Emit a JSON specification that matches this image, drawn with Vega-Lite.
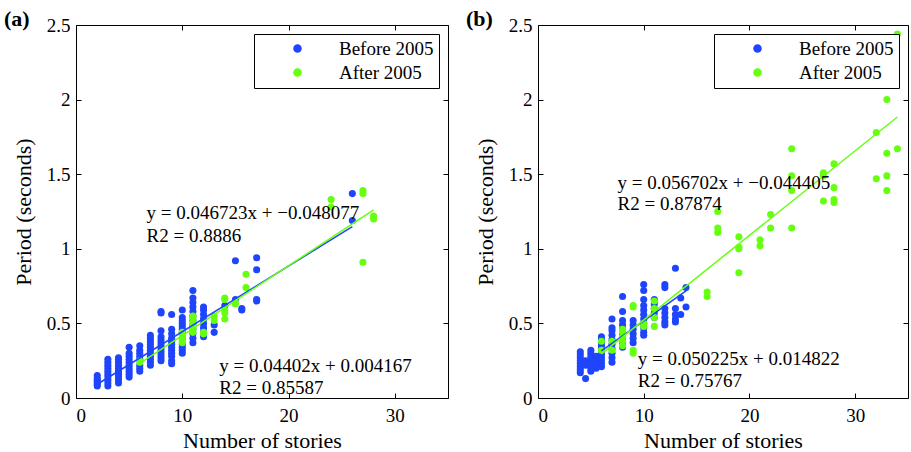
{
  "$schema": "https://vega.github.io/schema/vega-lite/v6.json",
  "padding": {"left": 3, "top": 7, "right": 0, "bottom": 0},
  "background": "white",
  "config": {
    "font": "Liberation Serif",
    "view": {"stroke": "black", "strokeWidth": 1},
    "axis": {
      "grid": false, "domain": false,
      "labelFont": "Liberation Serif", "labelFontSize": 19, "labelColor": "black",
      "titleFont": "Liberation Serif", "titleFontSize": 22, "titleFontWeight": "normal", "titleColor": "black",
      "tickColor": "black", "tickSize": -5, "tickWidth": 1
    },
    "title": {"font": "Liberation Serif", "fontSize": 22, "fontWeight": "bold", "color": "black", "anchor": "start", "frame": "group"}
  },
  "resolve": {"scale": {"color": "independent", "stroke": "independent"}, "legend": {"color": "independent", "stroke": "independent"}},
  "datasets": {
    "pts": [
      {"p":"a","g":"Before 2005","x":2,"y":0.08},{"p":"a","g":"Before 2005","x":2,"y":0.09},{"p":"a","g":"Before 2005","x":2,"y":0.10},{"p":"a","g":"Before 2005","x":2,"y":0.11},{"p":"a","g":"Before 2005","x":2,"y":0.12},{"p":"a","g":"Before 2005","x":2,"y":0.13},{"p":"a","g":"Before 2005","x":2,"y":0.15},
      {"p":"a","g":"Before 2005","x":3,"y":0.08},{"p":"a","g":"Before 2005","x":3,"y":0.10},{"p":"a","g":"Before 2005","x":3,"y":0.12},{"p":"a","g":"Before 2005","x":3,"y":0.14},{"p":"a","g":"Before 2005","x":3,"y":0.16},{"p":"a","g":"Before 2005","x":3,"y":0.18},{"p":"a","g":"Before 2005","x":3,"y":0.20},{"p":"a","g":"Before 2005","x":3,"y":0.22},{"p":"a","g":"Before 2005","x":3,"y":0.24},{"p":"a","g":"Before 2005","x":3,"y":0.26},
      {"p":"a","g":"Before 2005","x":4,"y":0.10},{"p":"a","g":"Before 2005","x":4,"y":0.12},{"p":"a","g":"Before 2005","x":4,"y":0.14},{"p":"a","g":"Before 2005","x":4,"y":0.16},{"p":"a","g":"Before 2005","x":4,"y":0.18},{"p":"a","g":"Before 2005","x":4,"y":0.20},{"p":"a","g":"Before 2005","x":4,"y":0.22},{"p":"a","g":"Before 2005","x":4,"y":0.24},{"p":"a","g":"Before 2005","x":4,"y":0.26},{"p":"a","g":"Before 2005","x":4,"y":0.27},
      {"p":"a","g":"Before 2005","x":5,"y":0.14},{"p":"a","g":"Before 2005","x":5,"y":0.16},{"p":"a","g":"Before 2005","x":5,"y":0.18},{"p":"a","g":"Before 2005","x":5,"y":0.20},{"p":"a","g":"Before 2005","x":5,"y":0.22},{"p":"a","g":"Before 2005","x":5,"y":0.24},{"p":"a","g":"Before 2005","x":5,"y":0.26},{"p":"a","g":"Before 2005","x":5,"y":0.28},{"p":"a","g":"Before 2005","x":5,"y":0.30},{"p":"a","g":"Before 2005","x":5,"y":0.34},
      {"p":"a","g":"Before 2005","x":6,"y":0.18},{"p":"a","g":"Before 2005","x":6,"y":0.20},{"p":"a","g":"Before 2005","x":6,"y":0.22},{"p":"a","g":"Before 2005","x":6,"y":0.26},{"p":"a","g":"Before 2005","x":6,"y":0.28},{"p":"a","g":"Before 2005","x":6,"y":0.30},{"p":"a","g":"Before 2005","x":6,"y":0.32},{"p":"a","g":"Before 2005","x":6,"y":0.35},
      {"p":"a","g":"Before 2005","x":7,"y":0.22},{"p":"a","g":"Before 2005","x":7,"y":0.24},{"p":"a","g":"Before 2005","x":7,"y":0.26},{"p":"a","g":"Before 2005","x":7,"y":0.28},{"p":"a","g":"Before 2005","x":7,"y":0.30},{"p":"a","g":"Before 2005","x":7,"y":0.32},{"p":"a","g":"Before 2005","x":7,"y":0.34},{"p":"a","g":"Before 2005","x":7,"y":0.36},{"p":"a","g":"Before 2005","x":7,"y":0.38},{"p":"a","g":"Before 2005","x":7,"y":0.40},{"p":"a","g":"Before 2005","x":7,"y":0.42},
      {"p":"a","g":"Before 2005","x":8,"y":0.25},{"p":"a","g":"Before 2005","x":8,"y":0.27},{"p":"a","g":"Before 2005","x":8,"y":0.29},{"p":"a","g":"Before 2005","x":8,"y":0.31},{"p":"a","g":"Before 2005","x":8,"y":0.33},{"p":"a","g":"Before 2005","x":8,"y":0.35},{"p":"a","g":"Before 2005","x":8,"y":0.37},{"p":"a","g":"Before 2005","x":8,"y":0.39},{"p":"a","g":"Before 2005","x":8,"y":0.41},{"p":"a","g":"Before 2005","x":8,"y":0.45},{"p":"a","g":"Before 2005","x":8,"y":0.57},{"p":"a","g":"Before 2005","x":8,"y":0.58},
      {"p":"a","g":"Before 2005","x":9,"y":0.23},{"p":"a","g":"Before 2005","x":9,"y":0.25},{"p":"a","g":"Before 2005","x":9,"y":0.28},{"p":"a","g":"Before 2005","x":9,"y":0.30},{"p":"a","g":"Before 2005","x":9,"y":0.32},{"p":"a","g":"Before 2005","x":9,"y":0.34},{"p":"a","g":"Before 2005","x":9,"y":0.36},{"p":"a","g":"Before 2005","x":9,"y":0.38},{"p":"a","g":"Before 2005","x":9,"y":0.40},{"p":"a","g":"Before 2005","x":9,"y":0.43},{"p":"a","g":"Before 2005","x":9,"y":0.46},{"p":"a","g":"Before 2005","x":9,"y":0.56},
      {"p":"a","g":"Before 2005","x":10,"y":0.30},{"p":"a","g":"Before 2005","x":10,"y":0.32},{"p":"a","g":"Before 2005","x":10,"y":0.34},{"p":"a","g":"Before 2005","x":10,"y":0.36},{"p":"a","g":"Before 2005","x":10,"y":0.40},{"p":"a","g":"Before 2005","x":10,"y":0.44},{"p":"a","g":"Before 2005","x":10,"y":0.46},{"p":"a","g":"Before 2005","x":10,"y":0.48},{"p":"a","g":"Before 2005","x":10,"y":0.50},{"p":"a","g":"Before 2005","x":10,"y":0.52},{"p":"a","g":"Before 2005","x":10,"y":0.54},{"p":"a","g":"Before 2005","x":10,"y":0.59},
      {"p":"a","g":"Before 2005","x":11,"y":0.37},{"p":"a","g":"Before 2005","x":11,"y":0.40},{"p":"a","g":"Before 2005","x":11,"y":0.43},{"p":"a","g":"Before 2005","x":11,"y":0.46},{"p":"a","g":"Before 2005","x":11,"y":0.49},{"p":"a","g":"Before 2005","x":11,"y":0.52},{"p":"a","g":"Before 2005","x":11,"y":0.55},{"p":"a","g":"Before 2005","x":11,"y":0.58},{"p":"a","g":"Before 2005","x":11,"y":0.61},{"p":"a","g":"Before 2005","x":11,"y":0.64},{"p":"a","g":"Before 2005","x":11,"y":0.67},{"p":"a","g":"Before 2005","x":11,"y":0.72},
      {"p":"a","g":"Before 2005","x":12,"y":0.41},{"p":"a","g":"Before 2005","x":12,"y":0.44},{"p":"a","g":"Before 2005","x":12,"y":0.47},{"p":"a","g":"Before 2005","x":12,"y":0.50},{"p":"a","g":"Before 2005","x":12,"y":0.53},{"p":"a","g":"Before 2005","x":12,"y":0.56},{"p":"a","g":"Before 2005","x":12,"y":0.59},{"p":"a","g":"Before 2005","x":12,"y":0.61},
      {"p":"a","g":"Before 2005","x":13,"y":0.44},{"p":"a","g":"Before 2005","x":13,"y":0.49},
      {"p":"a","g":"Before 2005","x":14,"y":0.62},
      {"p":"a","g":"Before 2005","x":15,"y":0.66},{"p":"a","g":"Before 2005","x":15,"y":0.92},
      {"p":"a","g":"Before 2005","x":15.6,"y":0.59},{"p":"a","g":"Before 2005","x":15.6,"y":0.60},
      {"p":"a","g":"Before 2005","x":17,"y":0.65},{"p":"a","g":"Before 2005","x":17,"y":0.66},{"p":"a","g":"Before 2005","x":17,"y":0.86},{"p":"a","g":"Before 2005","x":17,"y":0.94},
      {"p":"a","g":"Before 2005","x":26,"y":1.19},{"p":"a","g":"Before 2005","x":26,"y":1.37},
      {"p":"a","g":"After 2005","x":6,"y":0.24},{"p":"a","g":"After 2005","x":6,"y":0.25},
      {"p":"a","g":"After 2005","x":10,"y":0.37},{"p":"a","g":"After 2005","x":10,"y":0.38},{"p":"a","g":"After 2005","x":10,"y":0.40},{"p":"a","g":"After 2005","x":10,"y":0.42},{"p":"a","g":"After 2005","x":10,"y":0.44},
      {"p":"a","g":"After 2005","x":11,"y":0.44},{"p":"a","g":"After 2005","x":11,"y":0.46},{"p":"a","g":"After 2005","x":11,"y":0.48},{"p":"a","g":"After 2005","x":11,"y":0.50},{"p":"a","g":"After 2005","x":11,"y":0.52},{"p":"a","g":"After 2005","x":11,"y":0.54},{"p":"a","g":"After 2005","x":11,"y":0.55},
      {"p":"a","g":"After 2005","x":12,"y":0.43},{"p":"a","g":"After 2005","x":12,"y":0.44},
      {"p":"a","g":"After 2005","x":13,"y":0.52},{"p":"a","g":"After 2005","x":13,"y":0.55},
      {"p":"a","g":"After 2005","x":14,"y":0.53},{"p":"a","g":"After 2005","x":14,"y":0.57},{"p":"a","g":"After 2005","x":14,"y":0.59},{"p":"a","g":"After 2005","x":14,"y":0.66},{"p":"a","g":"After 2005","x":14,"y":0.67},
      {"p":"a","g":"After 2005","x":15,"y":0.63},{"p":"a","g":"After 2005","x":15,"y":0.64},
      {"p":"a","g":"After 2005","x":16,"y":0.74},{"p":"a","g":"After 2005","x":16,"y":0.83},
      {"p":"a","g":"After 2005","x":24,"y":1.28},{"p":"a","g":"After 2005","x":24,"y":1.33},
      {"p":"a","g":"After 2005","x":27,"y":0.91},{"p":"a","g":"After 2005","x":27,"y":1.37},{"p":"a","g":"After 2005","x":27,"y":1.39},
      {"p":"a","g":"After 2005","x":28,"y":1.20},{"p":"a","g":"After 2005","x":28,"y":1.22},
      {"p":"b","g":"Before 2005","x":4,"y":0.17},{"p":"b","g":"Before 2005","x":4,"y":0.19},{"p":"b","g":"Before 2005","x":4,"y":0.21},{"p":"b","g":"Before 2005","x":4,"y":0.23},{"p":"b","g":"Before 2005","x":4,"y":0.25},{"p":"b","g":"Before 2005","x":4,"y":0.27},{"p":"b","g":"Before 2005","x":4,"y":0.29},{"p":"b","g":"Before 2005","x":4,"y":0.31},
      {"p":"b","g":"Before 2005","x":4.5,"y":0.13},{"p":"b","g":"Before 2005","x":4.5,"y":0.22},{"p":"b","g":"Before 2005","x":4.5,"y":0.25},
      {"p":"b","g":"Before 2005","x":5,"y":0.18},{"p":"b","g":"Before 2005","x":5,"y":0.20},{"p":"b","g":"Before 2005","x":5,"y":0.22},{"p":"b","g":"Before 2005","x":5,"y":0.24},{"p":"b","g":"Before 2005","x":5,"y":0.26},{"p":"b","g":"Before 2005","x":5,"y":0.28},{"p":"b","g":"Before 2005","x":5,"y":0.30},{"p":"b","g":"Before 2005","x":5,"y":0.32},
      {"p":"b","g":"Before 2005","x":5.5,"y":0.20},{"p":"b","g":"Before 2005","x":5.5,"y":0.22},{"p":"b","g":"Before 2005","x":5.5,"y":0.25},{"p":"b","g":"Before 2005","x":5.5,"y":0.28},
      {"p":"b","g":"Before 2005","x":6,"y":0.21},{"p":"b","g":"Before 2005","x":6,"y":0.23},{"p":"b","g":"Before 2005","x":6,"y":0.25},{"p":"b","g":"Before 2005","x":6,"y":0.27},{"p":"b","g":"Before 2005","x":6,"y":0.29},{"p":"b","g":"Before 2005","x":6,"y":0.31},{"p":"b","g":"Before 2005","x":6,"y":0.33},{"p":"b","g":"Before 2005","x":6,"y":0.35},{"p":"b","g":"Before 2005","x":6,"y":0.37},{"p":"b","g":"Before 2005","x":6,"y":0.39},{"p":"b","g":"Before 2005","x":6,"y":0.41},
      {"p":"b","g":"Before 2005","x":7,"y":0.24},{"p":"b","g":"Before 2005","x":7,"y":0.27},{"p":"b","g":"Before 2005","x":7,"y":0.30},{"p":"b","g":"Before 2005","x":7,"y":0.33},{"p":"b","g":"Before 2005","x":7,"y":0.36},{"p":"b","g":"Before 2005","x":7,"y":0.39},{"p":"b","g":"Before 2005","x":7,"y":0.42},{"p":"b","g":"Before 2005","x":7,"y":0.45},{"p":"b","g":"Before 2005","x":7,"y":0.47},{"p":"b","g":"Before 2005","x":7,"y":0.53},
      {"p":"b","g":"Before 2005","x":8,"y":0.34},{"p":"b","g":"Before 2005","x":8,"y":0.37},{"p":"b","g":"Before 2005","x":8,"y":0.40},{"p":"b","g":"Before 2005","x":8,"y":0.43},{"p":"b","g":"Before 2005","x":8,"y":0.46},{"p":"b","g":"Before 2005","x":8,"y":0.49},{"p":"b","g":"Before 2005","x":8,"y":0.52},{"p":"b","g":"Before 2005","x":8,"y":0.58},{"p":"b","g":"Before 2005","x":8,"y":0.68},
      {"p":"b","g":"Before 2005","x":9,"y":0.37},{"p":"b","g":"Before 2005","x":9,"y":0.40},{"p":"b","g":"Before 2005","x":9,"y":0.43},{"p":"b","g":"Before 2005","x":9,"y":0.46},{"p":"b","g":"Before 2005","x":9,"y":0.49},{"p":"b","g":"Before 2005","x":9,"y":0.52},
      {"p":"b","g":"Before 2005","x":10,"y":0.42},{"p":"b","g":"Before 2005","x":10,"y":0.44},{"p":"b","g":"Before 2005","x":10,"y":0.47},{"p":"b","g":"Before 2005","x":10,"y":0.50},{"p":"b","g":"Before 2005","x":10,"y":0.53},{"p":"b","g":"Before 2005","x":10,"y":0.56},{"p":"b","g":"Before 2005","x":10,"y":0.59},{"p":"b","g":"Before 2005","x":10,"y":0.62},{"p":"b","g":"Before 2005","x":10,"y":0.66},{"p":"b","g":"Before 2005","x":10,"y":0.72},{"p":"b","g":"Before 2005","x":10,"y":0.76},
      {"p":"b","g":"Before 2005","x":11,"y":0.54},{"p":"b","g":"Before 2005","x":11,"y":0.57},{"p":"b","g":"Before 2005","x":11,"y":0.60},{"p":"b","g":"Before 2005","x":11,"y":0.63},{"p":"b","g":"Before 2005","x":11,"y":0.66},
      {"p":"b","g":"Before 2005","x":12,"y":0.49},{"p":"b","g":"Before 2005","x":12,"y":0.51},{"p":"b","g":"Before 2005","x":12,"y":0.54},{"p":"b","g":"Before 2005","x":12,"y":0.57},{"p":"b","g":"Before 2005","x":12,"y":0.60},{"p":"b","g":"Before 2005","x":12,"y":0.74},{"p":"b","g":"Before 2005","x":12,"y":0.76},
      {"p":"b","g":"Before 2005","x":13,"y":0.51},{"p":"b","g":"Before 2005","x":13,"y":0.53},{"p":"b","g":"Before 2005","x":13,"y":0.56},{"p":"b","g":"Before 2005","x":13,"y":0.60},{"p":"b","g":"Before 2005","x":13,"y":0.87},
      {"p":"b","g":"Before 2005","x":13.5,"y":0.56},{"p":"b","g":"Before 2005","x":13.5,"y":0.67},
      {"p":"b","g":"Before 2005","x":14,"y":0.61},{"p":"b","g":"Before 2005","x":14,"y":0.74},
      {"p":"b","g":"After 2005","x":6,"y":0.32},{"p":"b","g":"After 2005","x":6,"y":0.38},
      {"p":"b","g":"After 2005","x":7,"y":0.32},{"p":"b","g":"After 2005","x":7,"y":0.38},
      {"p":"b","g":"After 2005","x":8,"y":0.35},{"p":"b","g":"After 2005","x":8,"y":0.38},{"p":"b","g":"After 2005","x":8,"y":0.41},{"p":"b","g":"After 2005","x":8,"y":0.44},{"p":"b","g":"After 2005","x":8,"y":0.46},
      {"p":"b","g":"After 2005","x":9,"y":0.30},{"p":"b","g":"After 2005","x":9,"y":0.32},{"p":"b","g":"After 2005","x":9,"y":0.61},{"p":"b","g":"After 2005","x":9,"y":0.62},
      {"p":"b","g":"After 2005","x":10,"y":0.48},{"p":"b","g":"After 2005","x":10,"y":0.50},
      {"p":"b","g":"After 2005","x":11,"y":0.48},{"p":"b","g":"After 2005","x":11,"y":0.54},{"p":"b","g":"After 2005","x":11,"y":0.60},{"p":"b","g":"After 2005","x":11,"y":0.65},
      {"p":"b","g":"After 2005","x":16,"y":0.68},{"p":"b","g":"After 2005","x":16,"y":0.71},
      {"p":"b","g":"After 2005","x":17,"y":1.11},{"p":"b","g":"After 2005","x":17,"y":1.14},{"p":"b","g":"After 2005","x":17,"y":1.25},
      {"p":"b","g":"After 2005","x":19,"y":0.84},{"p":"b","g":"After 2005","x":19,"y":1.00},{"p":"b","g":"After 2005","x":19,"y":1.01},{"p":"b","g":"After 2005","x":19,"y":1.08},
      {"p":"b","g":"After 2005","x":21,"y":1.02},{"p":"b","g":"After 2005","x":21,"y":1.06},
      {"p":"b","g":"After 2005","x":22,"y":1.14},{"p":"b","g":"After 2005","x":22,"y":1.23},
      {"p":"b","g":"After 2005","x":24,"y":1.14},{"p":"b","g":"After 2005","x":24,"y":1.39},{"p":"b","g":"After 2005","x":24,"y":1.49},{"p":"b","g":"After 2005","x":24,"y":1.67},
      {"p":"b","g":"After 2005","x":27,"y":1.32},{"p":"b","g":"After 2005","x":27,"y":1.49},{"p":"b","g":"After 2005","x":27,"y":1.51},
      {"p":"b","g":"After 2005","x":28,"y":1.31},{"p":"b","g":"After 2005","x":28,"y":1.33},{"p":"b","g":"After 2005","x":28,"y":1.41},{"p":"b","g":"After 2005","x":28,"y":1.57},
      {"p":"b","g":"After 2005","x":32,"y":1.47},{"p":"b","g":"After 2005","x":32,"y":1.78},
      {"p":"b","g":"After 2005","x":33,"y":1.39},{"p":"b","g":"After 2005","x":33,"y":1.49},{"p":"b","g":"After 2005","x":33,"y":1.64},{"p":"b","g":"After 2005","x":33,"y":2.00},
      {"p":"b","g":"After 2005","x":34,"y":1.67},{"p":"b","g":"After 2005","x":34,"y":2.44}
    ],
    "fits": [
      {"p":"a","g":"Before 2005","x":2,"y":0.0922},{"p":"a","g":"Before 2005","x":26,"y":1.1487},
      {"p":"a","g":"After 2005","x":6,"y":0.2323},{"p":"a","g":"After 2005","x":28,"y":1.2602},
      {"p":"b","g":"Before 2005","x":6,"y":0.3162},{"p":"b","g":"Before 2005","x":14,"y":0.7180},
      {"p":"b","g":"After 2005","x":6,"y":0.2958},{"p":"b","g":"After 2005","x":34,"y":1.8835}
    ],
    "eqs": [
      {"p":"a","x":6.64,"y":1.241,"t":"y = 0.046723x + −0.048077"},
      {"p":"a","x":6.64,"y":1.089,"t":"R2 = 0.8886"},
      {"p":"a","x":13.48,"y":0.213,"t":"y = 0.04402x + 0.004167"},
      {"p":"a","x":13.48,"y":0.067,"t":"R2 = 0.85587"},
      {"p":"b","x":7.53,"y":1.442,"t":"y = 0.056702x + −0.044405"},
      {"p":"b","x":7.53,"y":1.297,"t":"R2 = 0.87874"},
      {"p":"b","x":9.44,"y":0.262,"t":"y = 0.050225x + 0.014822"},
      {"p":"b","x":9.44,"y":0.112,"t":"R2 = 0.75767"}
    ]
  },
  "spacing": 16,
  "hconcat": [
    {
      "width": 372, "height": 373,
      "title": {"text": "(a)", "dx": -72, "offset": -15},
      "resolve": {"axis": {"x": "independent", "y": "independent"}},
      "layer": [
        {
          "data": {"name": "pts"},
          "transform": [{"filter": "datum.p === 'a'"}],
          "mark": {"type": "circle", "size": 50, "opacity": 1},
          "encoding": {
            "x": {"field": "x", "type": "quantitative", "scale": {"domain": [0, 35], "nice": false}, "axis": {"orient": "bottom", "values": [0, 10, 20, 30], "title": "Number of stories", "labelPadding": 13, "titlePadding": 5}},
            "y": {"field": "y", "type": "quantitative", "scale": {"domain": [0, 2.5], "nice": false}, "axis": {"orient": "left", "values": [0, 0.5, 1, 1.5, 2, 2.5], "format": "~g", "title": "Period (seconds)", "labelPadding": 11, "titlePadding": 11}},
            "color": {"field": "g", "type": "nominal", "sort": ["Before 2005", "After 2005"],
              "scale": {"domain": ["Before 2005", "After 2005"], "range": ["#1f45fc", "#66ff11"]},
              "legend": {"title": null, "orient": "top-right", "offset": 9, "strokeColor": "black", "fillColor": "white", "padding": 5, "symbolOffset": 29, "labelOffset": 32, "labelFont": "Liberation Serif", "labelFontSize": 19, "labelColor": "black", "symbolSize": 50, "symbolType": "circle", "rowPadding": 4}}
          }
        },
        {
          "data": {"name": "fits"},
          "transform": [{"filter": "datum.p === 'a'"}],
          "mark": {"type": "line", "strokeWidth": 1.5},
          "encoding": {
            "x": {"field": "x", "type": "quantitative", "axis": {"orient": "top", "values": [0, 10, 20, 30], "labels": false, "title": null}},
            "y": {"field": "y", "type": "quantitative", "axis": {"orient": "right", "values": [0, 0.5, 1, 1.5, 2, 2.5], "labels": false, "title": null}},
            "stroke": {"field": "g", "type": "nominal", "scale": {"domain": ["Before 2005", "After 2005"], "range": ["#1f45fc", "#66ff11"]}, "legend": null}
          }
        },
        {
          "data": {"name": "eqs"},
          "transform": [{"filter": "datum.p === 'a'"}],
          "mark": {"type": "text", "align": "left", "baseline": "middle", "font": "Liberation Serif", "fontSize": 19, "color": "black"},
          "encoding": {
            "x": {"field": "x", "type": "quantitative", "axis": null},
            "y": {"field": "y", "type": "quantitative", "axis": null},
            "text": {"field": "t"}
          }
        }
      ]
    },
    {
      "width": 370, "height": 373,
      "title": {"text": "(b)", "dx": -72, "offset": -15},
      "resolve": {"axis": {"x": "independent", "y": "independent"}},
      "layer": [
        {
          "data": {"name": "pts"},
          "transform": [{"filter": "datum.p === 'b'"}],
          "mark": {"type": "circle", "size": 50, "opacity": 1},
          "encoding": {
            "x": {"field": "x", "type": "quantitative", "scale": {"domain": [0, 35], "nice": false}, "axis": {"orient": "bottom", "values": [0, 10, 20, 30], "title": "Number of stories", "labelPadding": 13, "titlePadding": 5}},
            "y": {"field": "y", "type": "quantitative", "scale": {"domain": [0, 2.5], "nice": false}, "axis": {"orient": "left", "values": [0, 0.5, 1, 1.5, 2, 2.5], "format": "~g", "title": "Period (seconds)", "labelPadding": 11, "titlePadding": 11}},
            "color": {"field": "g", "type": "nominal", "sort": ["Before 2005", "After 2005"],
              "scale": {"domain": ["Before 2005", "After 2005"], "range": ["#1f45fc", "#66ff11"]},
              "legend": {"title": null, "orient": "top-right", "offset": 9, "strokeColor": "black", "fillColor": "white", "padding": 5, "symbolOffset": 29, "labelOffset": 32, "labelFont": "Liberation Serif", "labelFontSize": 19, "labelColor": "black", "symbolSize": 50, "symbolType": "circle", "rowPadding": 4}}
          }
        },
        {
          "data": {"name": "fits"},
          "transform": [{"filter": "datum.p === 'b'"}],
          "mark": {"type": "line", "strokeWidth": 1.5},
          "encoding": {
            "x": {"field": "x", "type": "quantitative", "axis": {"orient": "top", "values": [0, 10, 20, 30], "labels": false, "title": null}},
            "y": {"field": "y", "type": "quantitative", "axis": {"orient": "right", "values": [0, 0.5, 1, 1.5, 2, 2.5], "labels": false, "title": null}},
            "stroke": {"field": "g", "type": "nominal", "scale": {"domain": ["Before 2005", "After 2005"], "range": ["#1f45fc", "#66ff11"]}, "legend": null}
          }
        },
        {
          "data": {"name": "eqs"},
          "transform": [{"filter": "datum.p === 'b'"}],
          "mark": {"type": "text", "align": "left", "baseline": "middle", "font": "Liberation Serif", "fontSize": 19, "color": "black"},
          "encoding": {
            "x": {"field": "x", "type": "quantitative", "axis": null},
            "y": {"field": "y", "type": "quantitative", "axis": null},
            "text": {"field": "t"}
          }
        }
      ]
    }
  ]
}
